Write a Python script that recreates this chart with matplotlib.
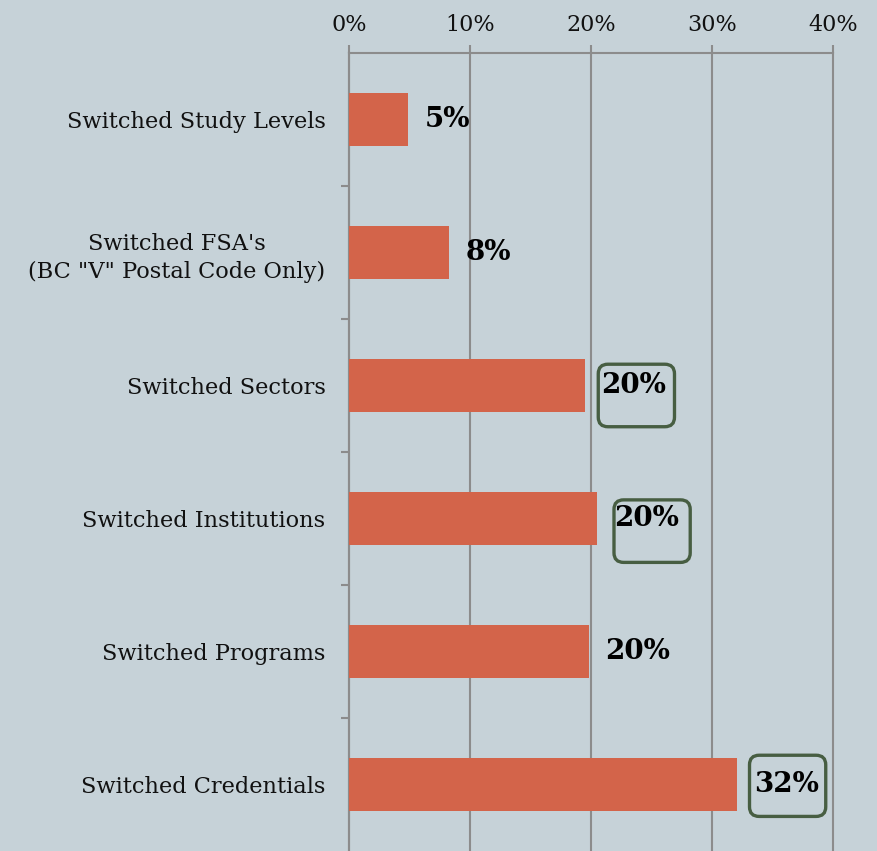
import matplotlib.pyplot as plt
from matplotlib.patches import FancyBboxPatch
from matplotlib.ticker import FuncFormatter

# data
categories = ['Switched Study Levels',
              'Switched FSA\'s\n(BC "V" Postal Code Only)',
              'Switched Sectors',
              'Switched Institutions',
              'Switched Programs',
              'Switched Credentials']
values = [4.9, 8.3, 19.5, 20.5, 19.8, 32.1]
value_labels = ['5%', '8%', '20%', '20%', '20%', '32%']
highlighted = ['Switched Sectors', 'Switched Institutions', 'Switched Credentials']
x_ticks = [0, 10, 20, 30, 40]

bg = '#c6d2d8'
bar_color = '#d3644a'
grid_color = '#8c8c8c'
box_color = '#475e42'

plt.rcParams['font.family'] = ['DejaVu Serif']

fig = plt.figure(figsize=(8.77, 8.51), dpi=100, facecolor=bg)
ax = fig.add_axes([349 / 877, 0 / 851, 484 / 877, 798 / 851])
ax.set_facecolor(bg)

ypos = list(range(len(categories)))
ax.barh(ypos, values, height=0.4, color=bar_color, zorder=3)

ax.set_xlim(0, 40)
ax.set_ylim(len(categories) - 0.5, -0.5)

ax.xaxis.tick_top()
ax.set_xticks(x_ticks)
ax.xaxis.set_major_formatter(FuncFormatter(lambda v, p: f'{v:.0f}%'))
ax.tick_params(axis='x', length=6, width=1.5, color=grid_color, pad=6,
               labelsize=16, labelcolor='#111111')
ax.grid(axis='x', color=grid_color, linewidth=1.5, zorder=1)
for gl in ax.get_xgridlines():
    gl.set_clip_on(False)

ax.set_yticks(ypos)
ax.set_yticklabels(categories, fontsize=16.2, color='#111111', linespacing=1.35)
for t in ax.get_yticklabels():
    t.set_multialignment('center')
ax.set_yticks([i + 0.5 for i in ypos[:-1]], minor=True)
ax.tick_params(axis='y', which='major', length=0, pad=17)
ax.tick_params(axis='y', which='minor', length=6, width=1.5, color=grid_color)

for s in ['right', 'bottom']:
    ax.spines[s].set_visible(False)
for s in ['left', 'top']:
    ax.spines[s].set_color(grid_color)
    ax.spines[s].set_linewidth(1.5)

# value labels
for i, (v, lab) in enumerate(zip(values, value_labels)):
    ax.annotate(lab, (v, i), xytext=(12, 0), textcoords='offset points',
                ha='left', va='center', fontsize=20, fontweight='bold',
                color='black', zorder=5)

# hand-drawn style highlight boxes
box_offsets = {'Switched Sectors': (1.1, -0.16, 0.47),
               'Switched Institutions': (1.4, -0.14, 0.47),
               'Switched Credentials': (1.0, -0.22, 0.46)}
for i, cat in enumerate(categories):
    if cat in highlighted:
        dx, dy, h = box_offsets[cat]
        box = FancyBboxPatch((values[i] + dx, i + dy), 6.3, h,
                             boxstyle='round,pad=0,rounding_size=0.8',
                             mutation_aspect=0.09,
                             facecolor='none', edgecolor=box_color,
                             linewidth=2.4, zorder=6, clip_on=False)
        ax.add_patch(box)

fig.savefig('out.png', dpi=100, facecolor=bg)
